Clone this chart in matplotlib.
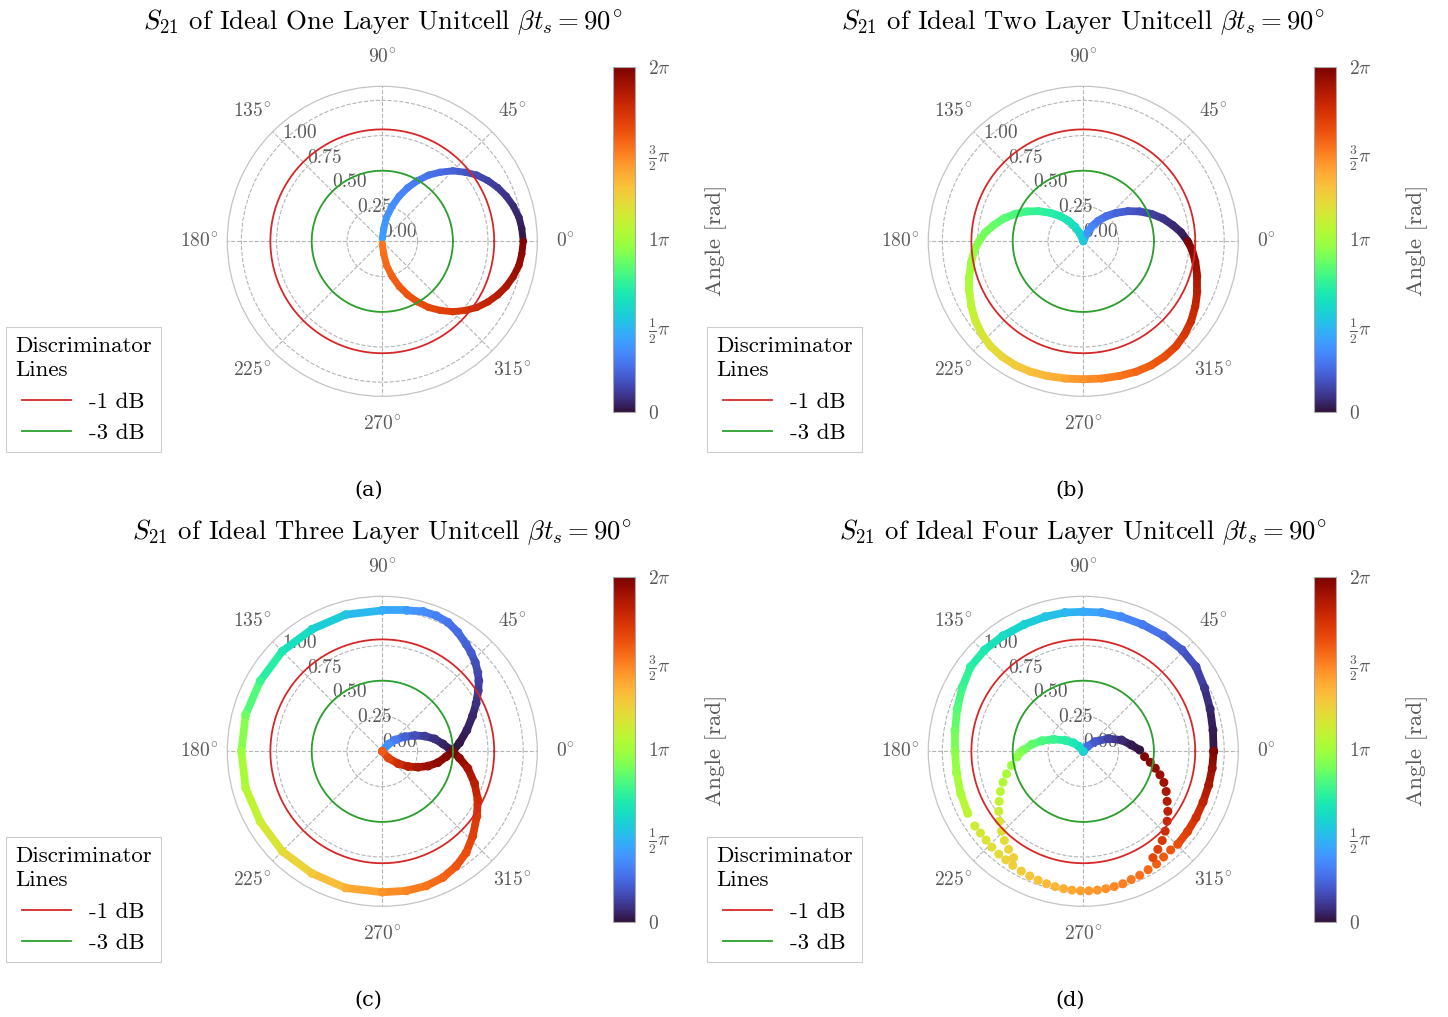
import numpy as np
import matplotlib
matplotlib.use("Agg")
import matplotlib.pyplot as plt
from matplotlib.collections import LineCollection
from matplotlib.lines import Line2D
from matplotlib.colors import Normalize
from matplotlib.cm import ScalarMappable

plt.rcParams['font.family'] = 'serif'
plt.rcParams['font.serif'] = ['cmr10']
plt.rcParams['mathtext.fontset'] = 'cm'
plt.rcParams['axes.unicode_minus'] = False
plt.rcParams['axes.formatter.use_mathtext'] = True

# ---------------- data (S21 real / imag parts, colour = angle in units of pi) ----
# (a) one layer
a_up_re = [1.00, 0.99, 0.97, 0.93, 0.88, 0.82, 0.75, 0.67, 0.59, 0.50, 0.41, 0.33, 0.25, 0.18, 0.12, 0.07, 0.03, 0.01, 0.00]
a_up_im = [0.00, 0.09, 0.17, 0.25, 0.32, 0.38, 0.43, 0.47, 0.49, 0.50, 0.49, 0.47, 0.43, 0.38, 0.32, 0.25, 0.17, 0.09, 0.02]
a_up_ph = [0.01, 0.03, 0.05, 0.07, 0.09, 0.11, 0.13, 0.16, 0.19, 0.22, 0.25, 0.28, 0.30, 0.32, 0.34, 0.36, 0.38, 0.40, 0.41]
a_lo_re = [1.00, 0.99, 0.97, 0.93, 0.88, 0.82, 0.75, 0.67, 0.59, 0.50, 0.41, 0.33, 0.25, 0.18, 0.12, 0.07, 0.03, 0.01, 0.00]
a_lo_im = [0.00, -0.09, -0.17, -0.25, -0.32, -0.38, -0.43, -0.47, -0.49, -0.50, -0.49, -0.47, -0.43, -0.38, -0.32, -0.25, -0.17, -0.09, -0.02]
a_lo_ph = [1.99, 1.96, 1.93, 1.90, 1.87, 1.84, 1.81, 1.78, 1.74, 1.71, 1.68, 1.66, 1.64, 1.62, 1.60, 1.58, 1.56, 1.54, 1.53]

# (b) two layers
b_r_re = [0.741, 0.694, 0.635, 0.565, 0.482, 0.400, 0.318, 0.235, 0.165, 0.106, 0.059, 0.024, 0.000]
b_r_im = [0.000, 0.064, 0.115, 0.162, 0.195, 0.212, 0.214, 0.202, 0.179, 0.146, 0.104, 0.056, 0.000]
b_r_ph = [0.01, 0.04, 0.07, 0.10, 0.13, 0.17, 0.20, 0.23, 0.26, 0.29, 0.33, 0.38, 0.46]
b_l_re = [0.000, -0.024, -0.059, -0.106, -0.165, -0.235, -0.318, -0.400, -0.482, -0.565, -0.635, -0.694, -0.741,
          -0.772, -0.795, -0.809, -0.809, -0.795, -0.765, -0.718, -0.659, -0.576, -0.482, -0.376, -0.259, -0.129,
          0.000, 0.129, 0.259, 0.376, 0.482, 0.576, 0.659, 0.718, 0.765, 0.795, 0.809, 0.809, 0.795, 0.772, 0.741]
b_l_im = [0.000, 0.056, 0.104, 0.146, 0.179, 0.202, 0.214, 0.212, 0.195, 0.162, 0.115, 0.064, 0.000,
          -0.061, -0.144, -0.249, -0.355, -0.461, -0.567, -0.661, -0.744, -0.819, -0.880, -0.925, -0.955, -0.974,
          -0.979, -0.974, -0.955, -0.925, -0.880, -0.819, -0.744, -0.661, -0.567, -0.461, -0.355, -0.249, -0.144, -0.061, 0.000]
b_l_ph = [0.56, 0.60, 0.63, 0.66, 0.69, 0.72, 0.75, 0.78, 0.81, 0.84, 0.86, 0.89, 0.92,
          0.95, 0.98, 1.01, 1.04, 1.08, 1.12, 1.16, 1.19, 1.23, 1.27, 1.31, 1.35, 1.40,
          1.45, 1.49, 1.53, 1.57, 1.60, 1.64, 1.68, 1.72, 1.76, 1.80, 1.84, 1.88, 1.92, 1.96, 1.99]

# (c) three layers
c_iu_re = [0.50, 0.478, 0.431, 0.372, 0.301, 0.231, 0.160, 0.089, 0.042, 0.0]
c_iu_im = [0.0, 0.016, 0.052, 0.088, 0.108, 0.112, 0.104, 0.080, 0.050, 0.0]
c_iu_ph = [0.01, 0.03, 0.05, 0.08, 0.12, 0.17, 0.22, 0.30, 0.37, 0.42]
c_il_re = [0.50, 0.454, 0.395, 0.325, 0.254, 0.184, 0.113, 0.042, 0.0]
c_il_im = [0.0, -0.038, -0.080, -0.105, -0.113, -0.108, -0.088, -0.047, 0.0]
c_il_ph = [1.99, 1.97, 1.95, 1.92, 1.88, 1.83, 1.76, 1.67, 1.60]
c_out_re = [0.50, 0.548, 0.600, 0.640, 0.666, 0.681, 0.685, 0.678, 0.660, 0.630, 0.595, 0.536, 0.466, 0.384, 0.289,
            0.172, 0.0, -0.26, -0.50, -0.71, -0.866, -0.97, -1.0, -0.97, -0.866, -0.71, -0.50, -0.26, 0.0, 0.172,
            0.313, 0.43, 0.525, 0.595, 0.642, 0.671, 0.678, 0.654, 0.607, 0.548, 0.50]
c_out_im = [0.0, 0.06, 0.15, 0.25, 0.34, 0.43, 0.50, 0.56, 0.63, 0.70, 0.76, 0.845, 0.915, 0.962, 0.993,
            1.0, 1.0, 0.97, 0.866, 0.71, 0.50, 0.26, 0.0, -0.26, -0.50, -0.71, -0.866, -0.97, -1.0, -0.99,
            -0.955, -0.896, -0.814, -0.72, -0.602, -0.461, -0.344, -0.226, -0.12, -0.049, 0.0]
c_out_ph = [0.01, 0.02, 0.04, 0.06, 0.08, 0.11, 0.13, 0.15, 0.17, 0.20, 0.22, 0.25, 0.28, 0.32, 0.36,
            0.40, 0.46, 0.53, 0.60, 0.68, 0.77, 0.88, 0.98, 1.05, 1.12, 1.20, 1.28, 1.36, 1.44, 1.49,
            1.53, 1.57, 1.61, 1.64, 1.68, 1.72, 1.77, 1.83, 1.89, 1.95, 1.99]

# (d) four layers
d_up_re = [0.925, 0.92, 0.90, 0.86, 0.80, 0.70, 0.57, 0.42, 0.27, 0.13, 0.0, -0.13, -0.27, -0.42, -0.57, -0.70,
           -0.80, -0.86, -0.895, -0.91, -0.91, -0.90, -0.87, -0.82]
d_up_im = [0.0, 0.15, 0.30, 0.45, 0.60, 0.72, 0.82, 0.90, 0.955, 0.985, 0.99, 0.985, 0.955, 0.90, 0.82, 0.72,
           0.60, 0.45, 0.30, 0.15, 0.0, -0.15, -0.30, -0.44]
d_up_ph = [0.01, 0.03, 0.06, 0.10, 0.15, 0.20, 0.25, 0.30, 0.35, 0.40, 0.45, 0.49, 0.53, 0.58, 0.63, 0.68,
           0.73, 0.78, 0.83, 0.88, 0.93, 0.98, 1.03, 1.08]
d_lr_re = [0.925, 0.915, 0.89, 0.85, 0.80, 0.74, 0.67]
d_lr_im = [0.0, -0.12, -0.24, -0.36, -0.47, -0.57, -0.66]
d_lr_ph = [1.99, 1.93, 1.87, 1.81, 1.75, 1.69, 1.64]
d_bot_re = [0.62, 0.57, 0.52, 0.46, 0.40, 0.34, 0.28, 0.22, 0.16, 0.10, 0.04, -0.02, -0.08, -0.14, -0.20, -0.26,
            -0.32, -0.38, -0.44, -0.50, -0.55, -0.60, -0.65, -0.69, -0.73, -0.77]
d_bot_im = [-0.70, -0.75, -0.80, -0.84, -0.88, -0.91, -0.94, -0.96, -0.975, -0.985, -0.99, -0.99, -0.985, -0.975,
            -0.96, -0.94, -0.915, -0.885, -0.85, -0.81, -0.77, -0.73, -0.68, -0.63, -0.58, -0.53]
d_bot_ph = [1.62, 1.60, 1.58, 1.56, 1.54, 1.52, 1.50, 1.48, 1.46, 1.44, 1.43, 1.41, 1.39, 1.37, 1.35, 1.33,
            1.31, 1.29, 1.27, 1.25, 1.23, 1.21, 1.19, 1.17, 1.15, 1.13]
d_rl_re = [0.0, 0.03, 0.082, 0.176, 0.271, 0.341, 0.40]
d_rl_im = [0.0, 0.035, 0.068, 0.09, 0.08, 0.045, 0.009]
d_rl_ph = [0.32, 0.26, 0.20, 0.13, 0.07, 0.03, 0.01]
d_ll_re = [0.0, -0.03, -0.07, -0.13, -0.212, -0.294, -0.365, -0.424, -0.45]
d_ll_im = [0.0, 0.035, 0.06, 0.078, 0.085, 0.075, 0.05, 0.01, -0.01]
d_ll_ph = [0.60, 0.64, 0.68, 0.72, 0.77, 0.81, 0.85, 0.89, 0.92]
d_ir_re = [0.435, 0.475, 0.511, 0.544, 0.572, 0.588, 0.595, 0.600, 0.595, 0.581, 0.560, 0.529, 0.494]
d_ir_im = [-0.038, -0.078, -0.120, -0.167, -0.221, -0.285, -0.355, -0.426, -0.496, -0.567, -0.633, -0.696, -0.755]
d_ir_ph = [1.98, 1.96, 1.94, 1.92, 1.90, 1.88, 1.85, 1.82, 1.79, 1.76, 1.72, 1.69, 1.66]
d_il_re = [-0.47, -0.51, -0.545, -0.57, -0.588, -0.597, -0.60, -0.595, -0.58, -0.56, -0.53, -0.495]
d_il_im = [-0.04, -0.10, -0.16, -0.22, -0.285, -0.355, -0.426, -0.496, -0.567, -0.633, -0.696, -0.755]
d_il_ph = [0.95, 0.98, 1.01, 1.04, 1.07, 1.10, 1.13, 1.16, 1.19, 1.21, 1.23, 1.25]

titles = [r'$S_{21}$ of Ideal One Layer Unitcell $\beta t_s = 90^{\!\circ}$',
          r'$S_{21}$ of Ideal Two Layer Unitcell $\beta t_s = 90^{\!\circ}$',
          r'$S_{21}$ of Ideal Three Layer Unitcell $\beta t_s = 90^{\!\circ}$',
          r'$S_{21}$ of Ideal Four Layer Unitcell $\beta t_s = 90^{\!\circ}$']
captions = ['(a)', '(b)', '(c)', '(d)']
r_ticks = [0.0, 0.25, 0.5, 0.75, 1.0]
ang_ticks = [0, 45, 90, 135, 180, 225, 270, 315]
disc_db = [-1, -3]
disc_labels = ['-1 dB', '-3 dB']
disc_colors = ['#d62728', '#2ca02c']
cb_ticks = [0, 0.5, 1.0, 1.5, 2.0]
cb_labels = ['0', r'$\frac{1}{2}\pi$', r'$1\pi$', r'$\frac{3}{2}\pi$', r'$2\pi$']

# ---------------- figure ----------------
W, H = 1448, 1017
fig = plt.figure(figsize=(W / 100, H / 100), dpi=100)
cmap = plt.get_cmap('turbo')
norm = Normalize(0, 2 * np.pi)
GRAY = '#595959'


def box(x0, y0, w, h):
    return [x0 / W, 1 - (y0 + h) / H, w / W, h / H]


def draw(ax, re, im, ph, lw=5.0, s=26, line=True):
    re = np.asarray(re, float)
    im = np.asarray(im, float)
    ph = np.asarray(ph, float) * np.pi
    th = np.unwrap(np.arctan2(im, re))
    r = np.hypot(re, im)
    if line:
        pts = np.column_stack([th, r])
        segs = np.stack([pts[:-1], pts[1:]], axis=1)
        lc = LineCollection(segs, cmap=cmap, norm=norm, linewidths=lw,
                            capstyle='round', zorder=2)
        lc.set_array(0.5 * (ph[:-1] + ph[1:]))
        ax.add_collection(lc, autolim=False)
    ax.scatter(th, r, c=ph, cmap=cmap, norm=norm, s=s, linewidths=0, zorder=2.1)


panels = [
    (382.3, 241.3, [(a_up_re, a_up_im, a_up_ph, True), (a_lo_re, a_lo_im, a_lo_ph, True)], 5.0, 26),
    (1083.3, 241.3, [(b_r_re, b_r_im, b_r_ph, True), (b_l_re, b_l_im, b_l_ph, True)], 5.6, 30),
    (382.3, 751.3, [(c_iu_re, c_iu_im, c_iu_ph, True), (c_il_re, c_il_im, c_il_ph, True),
                    (c_out_re, c_out_im, c_out_ph, True)], 5.6, 40),
    (1083.3, 751.3, [(d_up_re, d_up_im, d_up_ph, True), (d_lr_re, d_lr_im, d_lr_ph, True),
                     (d_bot_re, d_bot_im, d_bot_ph, False), (d_rl_re, d_rl_im, d_rl_ph, True),
                     (d_ll_re, d_ll_im, d_ll_ph, True), (d_ir_re, d_ir_im, d_ir_ph, False),
                     (d_il_re, d_il_im, d_il_ph, False)], 5.6, 42),
]

R = 155.0
circ_t = np.linspace(0, 2 * np.pi, 361)
for i, (cx, cy, branches, lw, s) in enumerate(panels):
    ax = fig.add_axes(box(cx - R, cy - R, 2 * R, 2 * R), projection='polar')
    for re, im, ph, ln in branches:
        draw(ax, re, im, ph, lw=lw, s=s, line=ln)
    for db, col in zip(disc_db, disc_colors):
        ax.plot(circ_t, np.full_like(circ_t, 10 ** (db / 10)), color=col, lw=1.3, zorder=3)
    ax.set_ylim(0, 1.1)
    ax.set_yticks(r_ticks)
    ax.set_yticklabels([f'{v:.2f}' for v in r_ticks])
    ax.set_rlabel_position(135)
    ax.set_xticks(np.deg2rad(ang_ticks))
    ax.set_xticklabels([rf'${a}^{{\!\circ}}$' for a in ang_ticks])
    ax.tick_params(axis='x', pad=13.5, length=0, labelsize=14, labelcolor=GRAY)
    ax.tick_params(axis='y', length=0, labelsize=14, labelcolor=GRAY)
    ax.grid(True, ls='--', lw=0.8, color='#b5b5b5')
    ax.spines['polar'].set_color('#c4c4c4')
    ax.spines['polar'].set_linewidth(0.9)

    # title and caption
    fig.text(cx / W, 1 - (cy - 219) / H, titles[i], ha='center', va='center', fontsize=19.3)
    fig.text((cx - 13.5) / W, 1 - (cy + 249) / H, captions[i], ha='center', va='center',
             fontsize=15, family='DejaVu Serif')

    # legend
    lx, ly = cx - 376.3, cy + 86
    handles = [Line2D([], [], color=c, lw=1.3) for c in disc_colors]
    leg = ax.legend(handles, disc_labels, title='Discriminator\nLines', loc='upper left',
                    bbox_to_anchor=(lx / W, 1 - ly / H), bbox_transform=fig.transFigure,
                    fontsize=16.5, title_fontsize=16.5, fancybox=False,
                    edgecolor='#cccccc', framealpha=1, borderaxespad=0, handlelength=2.1,
                    borderpad=0.4, labelspacing=0.5, handletextpad=0.8)
    leg.get_title().set_multialignment('left')
    leg.get_title().set_linespacing(1.3)
    leg.get_frame().set_linewidth(0.8)

    # colorbar
    cax = fig.add_axes(box(cx + 230.7, cy - 174.3, 21.5, 345))
    cb = fig.colorbar(ScalarMappable(norm=norm, cmap=cmap), cax=cax)
    cb.set_ticks([t * np.pi for t in cb_ticks])
    cb.set_ticklabels(cb_labels)
    cax.tick_params(length=0, pad=10, labelsize=14, labelcolor=GRAY)
    cb.outline.set_edgecolor('#a8a8a8')
    cb.outline.set_linewidth(0.8)
    fig.text((cx + 333.7) / W, 1 - (cy - 1) / H, 'Angle [rad]', rotation=90,
             ha='center', va='center', fontsize=16.5, color=GRAY)

fig.savefig('out.png', dpi=100, facecolor='white')
